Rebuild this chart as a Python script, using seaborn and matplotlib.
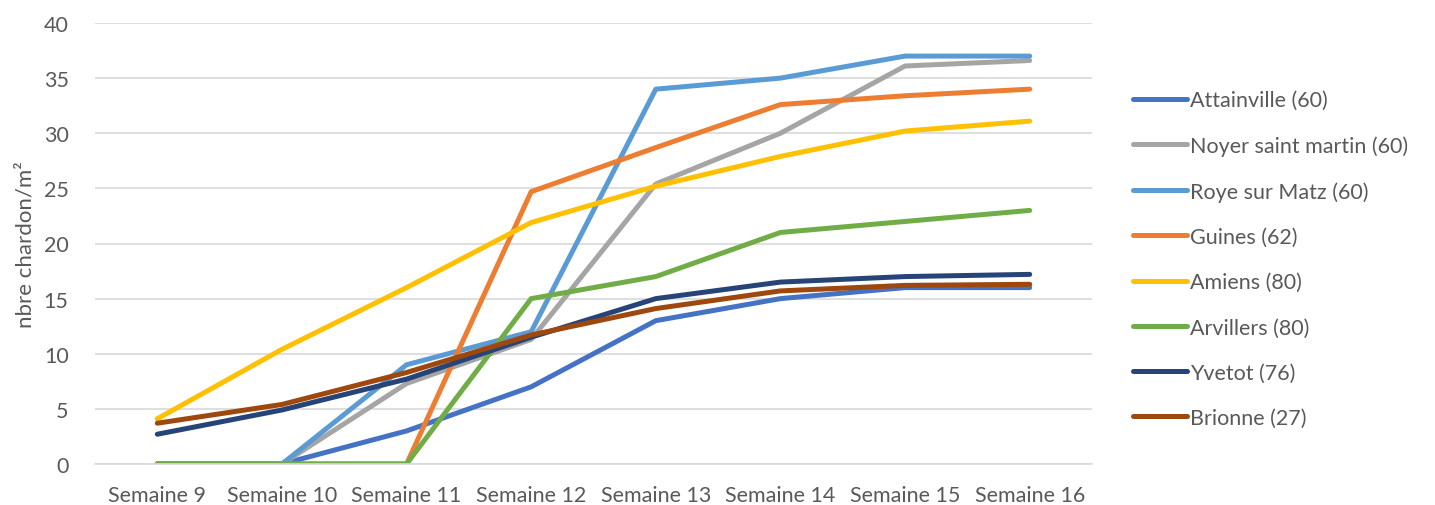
import matplotlib
matplotlib.use("Agg")
import matplotlib.pyplot as plt
import seaborn as sns
import pandas as pd

weeks = ["Semaine 9", "Semaine 10", "Semaine 11", "Semaine 12",
         "Semaine 13", "Semaine 14", "Semaine 15", "Semaine 16"]

attainville = [0, 0, 3, 7, 13, 15, 16, 16]
noyer = [0, 0, 7.3, 11.3, 25.4, 30, 36.1, 36.6]
roye = [0, 0, 9, 12, 34, 35, 37, 37]
guines = [0, 0, 0, 24.7, 28.7, 32.6, 33.4, 34]
amiens = [4.1, 10.4, 16, 21.9, 25.2, 27.9, 30.2, 31.1]
arvillers = [0, 0, 0, 15, 17, 21, 22, 23]
yvetot = [2.7, 4.9, 7.7, 11.5, 15, 16.5, 17, 17.2]
brionne = [3.7, 5.4, 8.3, 11.7, 14.1, 15.7, 16.2, 16.3]

series_names = ["Attainville (60)", "Noyer saint martin (60)", "Roye sur Matz (60)",
                "Guines (62)", "Amiens (80)", "Arvillers (80)", "Yvetot (76)", "Brionne (27)"]
series_values = [attainville, noyer, roye, guines, amiens, arvillers, yvetot, brionne]
colors = ["#4472C4", "#A5A5A5", "#5B9BD5", "#ED7D31", "#FFC000", "#70AD47", "#264478", "#9E480E"]

rows = []
for name, vals in zip(series_names, series_values):
    for i, (w, v) in enumerate(zip(weeks, vals)):
        rows.append({"site": name, "pos": i, "val": v})
df = pd.DataFrame(rows)

sns.set_style("white")
plt.rcParams["font.family"] = ["Lato", "DejaVu Sans"]

fig = plt.figure(figsize=(14.35, 5.06), dpi=100)
ax = fig.add_axes([95 / 1435, 1 - 465 / 506, (1092 - 95) / 1435, (465 - 24) / 506])

sns.lineplot(data=df, x="pos", y="val", hue="site", hue_order=series_names,
             palette=colors, linewidth=3.6, ax=ax, sort=False, legend=True,
             solid_capstyle="round", solid_joinstyle="round")

ax.set_xlim(-0.5, 7.5)
ax.set_ylim(0, 40)
ax.set_yticks(range(0, 41, 5))
ax.set_xticks(range(len(weeks)))
ax.set_xticklabels(weeks)
ax.grid(axis="y", color="#D9D9D9", linewidth=1.2)
ax.set_axisbelow(True)
for s in ["top", "right", "left"]:
    ax.spines[s].set_visible(False)
ax.spines["bottom"].set_color("#D9D9D9")
ax.spines["bottom"].set_linewidth(1.2)
ax.tick_params(axis="both", length=0, colors="#595959", labelsize=15.5)
ax.tick_params(axis="x", pad=15)
ax.tick_params(axis="y", pad=19)
ax.set_xlabel("")
ax.set_ylabel("nbre chardon/m²", color="#595959", fontsize=16, labelpad=6)

handles, labels = ax.get_legend_handles_labels()
ax.legend(handles, labels, loc="center left", bbox_to_anchor=(1114 / 1435, 1 - 260 / 506),
          bbox_transform=fig.transFigure, frameon=False, fontsize=15.5,
          labelcolor="#595959", handlelength=2.5, handletextpad=0.15,
          labelspacing=1.17)

fig.savefig("out.png", dpi=100)
